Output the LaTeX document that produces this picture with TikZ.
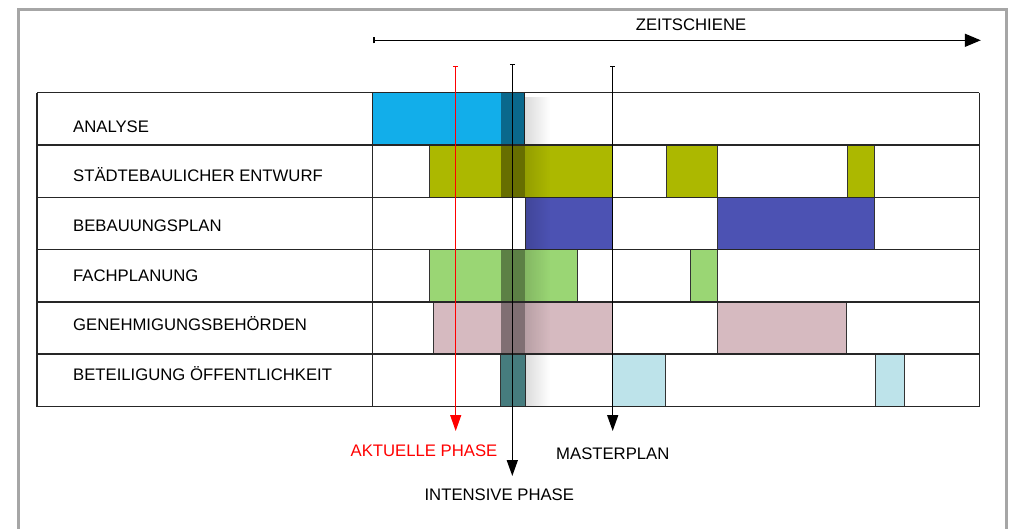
\documentclass[tikz,border=0pt]{standalone}
\usepackage{fontspec}
\setmainfont{Liberation Sans}
\usetikzlibrary{arrows.meta,fadings}

\definecolor{framegray}{RGB}{166,166,166}
\definecolor{analyseblue}{RGB}{18,174,234}
\definecolor{entwurfolive}{RGB}{172,184,0}
\definecolor{planblue}{RGB}{76,82,179}
\definecolor{fachgreen}{RGB}{154,214,116}
\definecolor{genehpink}{RGB}{214,186,192}
\definecolor{beteilteal}{RGB}{117,208,210}
\definecolor{beteilblue}{RGB}{189,227,234}

\begin{document}
\begin{tikzpicture}[x=1pt, y=-1pt,
	font=\fontsize{16.7}{20}\selectfont,
	phase/.style={fill=#1, draw=black!80, line width=1pt},
	gridline/.style={draw=black!85, line width=1.5pt},
	rowlabel/.style={anchor=base west, inner sep=0pt},
	marklabel/.style={anchor=base, inner sep=0pt},
	marker/.style={line width=1.5pt, {Bar[width=5pt]}-{Triangle[length=16pt,width=11pt]}}]
	\useasboundingbox (0,0) rectangle (1011,529);
	% Frame
	\draw[framegray, line width=3pt] (18.5,529) -- (18.5,9.5) -- (1006.5,9.5) -- (1006.5,529);
	
	% Phases
	% row / from / to / colour
	\foreach \r/\xa/\xb/\c in {
		0/372.7/524.3/analyseblue,
		1/429.3/612.7/entwurfolive, 1/666/717/entwurfolive, 1/847.7/874.3/entwurfolive,
		2/525.3/612.7/planblue, 2/717/874.3/planblue,
		3/429.7/577.7/fachgreen, 3/690.3/717/fachgreen,
		4/433/612.7/genehpink, 4/717/846.3/genehpink,
		5/500.7/525.3/beteilteal, 5/612.7/665.3/beteilblue, 5/875.3/904/beteilblue}
		\draw[phase=\c] (\xa,92.7+52.3*\r) rectangle (\xb,145+52.3*\r);
	
	% Shadow of the intensive phase
	\fill[black, opacity=0.14, path fading=east] (525.3,97) rectangle (550,406.5);
	% Intensive phase overlay
	\foreach \r in {0,1,3,4,5}
		\fill[black, opacity=0.4] (500.7,92.7+52.3*\r) rectangle (525.3,145+52.3*\r);
	
	% Table
	\foreach \r in {0,...,6}
		\draw[gridline] (37,92.7+52.3*\r) -- (979.3,92.7+52.3*\r);
	\draw[gridline] (37,92.7) -- (37,406.5);
	\draw[gridline] (372.7,92.7) -- (372.7,406.5);
	\draw[gridline] (979.3,92.7) -- (979.3,406.5);
	
	% Nodes
	% Row labels
	\node[rowlabel] (analyse) at (73,132.3) {ANALYSE};
	\node[rowlabel] (entwurf) at (73,182.0) {STÄDTEBAULICHER ENTWURF};
	\node[rowlabel] (bplan) at (73,231.6) {BEBAUUNGSPLAN};
	\node[rowlabel] (fach) at (73,281.2) {FACHPLANUNG};
	\node[rowlabel] (geneh) at (73,330.8) {GENEHMIGUNGSBEHÖRDEN};
	\node[rowlabel] (beteil) at (73,380.4) {BETEILIGUNG ÖFFENTLICHKEIT};
	
	% Markers
	\node[marklabel] (zeit) at (691,30.7) {ZEITSCHIENE};
	\node[marklabel, red] (aktuell) at (424,456) {AKTUELLE PHASE};
	\node[marklabel] (intensiv) at (499.3,500) {INTENSIVE PHASE};
	\node[marklabel] (master) at (612.8,459.3) {MASTERPLAN};
	\coordinate (zeit-start) at (373,40.3);
	\coordinate (zeit-end) at (980.8,40.3);
	\coordinate (aktuell-top) at (455.7,66);
	\coordinate (aktuell-end) at (455.7,431);
	\coordinate (intensiv-top) at (512.3,64);
	\coordinate (intensiv-end) at (512.3,476);
	\coordinate (master-top) at (612.7,66);
	\coordinate (master-end) at (612.7,431);
	
	% Edges
	\draw[marker, {Bar[width=6pt]}-{Triangle[length=16pt,width=13pt]}] (zeit-start) -- (zeit-end);
	\draw[marker, red, line width=1.2pt] (aktuell-top) -- (aktuell-end);
	\draw[marker] (intensiv-top) -- (intensiv-end);
	\draw[marker] (master-top) -- (master-end);
\end{tikzpicture}
\end{document}
